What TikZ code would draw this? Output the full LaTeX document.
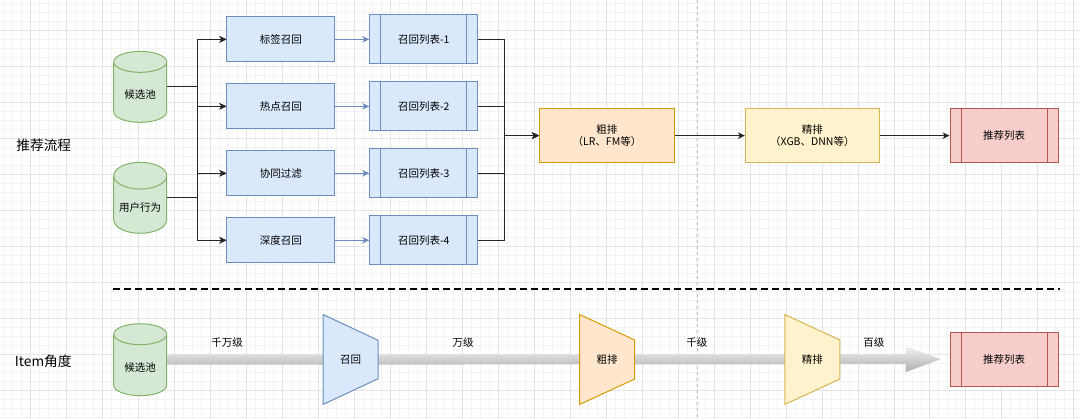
\documentclass[tikz,border=0pt]{standalone}
\usepackage{fontspec}
\setmainfont{Noto Sans CJK SC}
\usetikzlibrary{arrows.meta,shapes.geometric,calc}

\definecolor{greenfill}{HTML}{D5E8D4}
\definecolor{greenline}{HTML}{82B366}
\definecolor{bluefill}{HTML}{DAE8FC}
\definecolor{blueline}{HTML}{6C8EBF}
\definecolor{orangefill}{HTML}{FFE6CC}
\definecolor{orangeline}{HTML}{D79B00}
\definecolor{yellowfill}{HTML}{FFF2CC}
\definecolor{yellowline}{HTML}{D6B656}
\definecolor{redfill}{HTML}{F8CECC}
\definecolor{redline}{HTML}{B85450}
\definecolor{gridminor}{HTML}{F3F3F3}
\definecolor{gridmajor}{HTML}{E4E4E4}

\tikzset{
  flow/.style={draw=black!85,line width=1pt,-{Stealth[length=7pt,width=6.5pt,inset=2pt]}},
  blueflow/.style={draw=blueline,line width=1pt,-{Stealth[length=7pt,width=6.5pt,inset=2pt]}},
  listbox/.style={rectangle,line width=1pt,minimum width=108pt,
    path picture={
      \draw[line width=1pt] ([xshift=11pt]path picture bounding box.north west) -- ([xshift=11pt]path picture bounding box.south west);
      \draw[line width=1pt] ([xshift=-11pt]path picture bounding box.north east) -- ([xshift=-11pt]path picture bounding box.south east);
    }},
  db/.style={cylinder,shape border rotate=90,aspect=0.55,draw=greenline,fill=greenfill,
    line width=1pt,minimum width=53pt,minimum height=71pt,anchor=shape center},
  funnel/.style={trapezium,shape border rotate=270,trapezium left angle=69,trapezium right angle=69,
    trapezium stretches=true,minimum width=90pt,minimum height=55pt,line width=1pt}
}

\begin{document}
\begin{tikzpicture}[x=1pt,y=-1pt,font=\fontsize{10.5}{12.5}\selectfont]

  % background grid
  \fill[white] (0,0) rectangle (1080,419);
  \foreach \x in {3,12,...,1080} \draw[gridminor,line width=0.6pt] (\x,0) -- (\x,419);
  \foreach \y in {3,12,...,419} \draw[gridminor,line width=0.6pt] (0,\y) -- (1080,\y);
  \foreach \x in {30,66,...,1080} \draw[gridmajor,line width=0.6pt] (\x,0) -- (\x,419);
  \foreach \y in {30,66,...,419} \draw[gridmajor,line width=0.6pt] (0,\y) -- (1080,\y);
  \draw[black!25,line width=0.8pt,dash pattern=on 3pt off 3pt] (697.7,0) -- (697.7,419);
  \useasboundingbox (0,0) rectangle (1080,419);

  \node[font=\fontsize{13.7}{16}\selectfont] (flowT) at (43.5,145) {推荐流程};
  \node[font=\fontsize{13.7}{16}\selectfont] (itemT) at (43,361) {Item角度};

  \node[db] (pool1) at (140,86.5) {候选池};
  \node[db] (behav) at (140,197.5) {用户行为};

  \begin{scope}[every node/.style={rectangle,draw=blueline,fill=bluefill,line width=1pt,
      minimum width=108pt,minimum height=45pt}]
    \node (tagR) at (280.7,39)  {标签召回};
    \node (hotR) at (280.7,106) {热点召回};
    \node (cfR)  at (280.7,173) {协同过滤};
    \node (dnnR) at (280.7,240) {深度召回};
  \end{scope}

  \begin{scope}[every node/.style={listbox,draw=blueline,fill=bluefill,minimum height=49pt}]
    \node (list1) at (423.7,39)  {召回列表-1};
    \node (list2) at (423.7,106) {召回列表-2};
    \node (list3) at (423.7,173) {召回列表-3};
    \node (list4) at (423.7,240) {召回列表-4};
  \end{scope}

  \begin{scope}[every node/.style={rectangle,line width=1pt,minimum height=54pt,align=center}]
    \node[draw=orangeline,fill=orangefill,minimum width=135pt] (rough) at (607,135.3) {粗排\\（LR、FM等）};
    \node[draw=yellowline,fill=yellowfill,minimum width=134pt] (fine) at (812.5,135.3) {精排\\（XGB、DNN等）};
    \node[listbox,draw=redline,fill=redfill] (recL) at (1004.3,135.3) {推荐列表};
  \end{scope}

  \coordinate (busL) at (197,0);
  \coordinate (busR) at (504.5,0);

  \foreach \src in {pool1,behav}
    \foreach \dst in {tagR,hotR,cfR,dnnR}
      \draw[flow] (\src.shape center -| \src.east) -- (\src.shape center -| busL) |- (\dst.west);

  \path (tagR) edge[blueflow] (list1);
  \path (hotR) edge[blueflow] (list2);
  \path (cfR)  edge[blueflow] (list3);
  \path (dnnR) edge[blueflow] (list4);

  \foreach \l in {list1,list2,list3,list4}
    \draw[flow] (\l.east) -| (busR |- rough.west) -- (rough.west);

  \draw[flow] (rough) -- (fine);
  \draw[flow] (fine) -- (recL);

  % item view
  \draw[black,line width=1.8pt,dash pattern=on 7pt off 4pt] (112.6,289) -- (1060,289);

  \node[db,minimum height=72pt] (pool2) at (140,359.5) {候选池};
  \coordinate (tip) at (941,359);
  \shade[top color=black!5,bottom color=black!32]
    ($(pool2.shape center -| pool2.east)+(0,-5)$) -- ($(tip)+(-35.3,-5)$) -- ($(tip)+(-35.3,-13)$) -- (tip)
    -- ($(tip)+(-35.3,13)$) -- ($(tip)+(-35.3,5)$) -- ($(pool2.shape center -| pool2.east)+(0,5)$) -- cycle;

  \node[funnel,draw=blueline,fill=bluefill] (recallF) at (350.5,359.3) {召回};
  \node[funnel,draw=orangeline,fill=orangefill] (roughF) at (607.2,359.3) {粗排};
  \node[funnel,draw=yellowline,fill=yellowfill] (fineF) at (812.5,359.3) {精排};
  \node[listbox,draw=redline,fill=redfill,minimum height=54pt] (recI) at (1004.3,359.5) {推荐列表};

  \node (lvl1) at (227,342.7) {千万级};
  \node (lvl2) at (463,342.7) {万级};
  \node (lvl3) at (697,342.7) {千级};
  \node (lvl4) at (874,342.7) {百级};

\end{tikzpicture}
\end{document}
